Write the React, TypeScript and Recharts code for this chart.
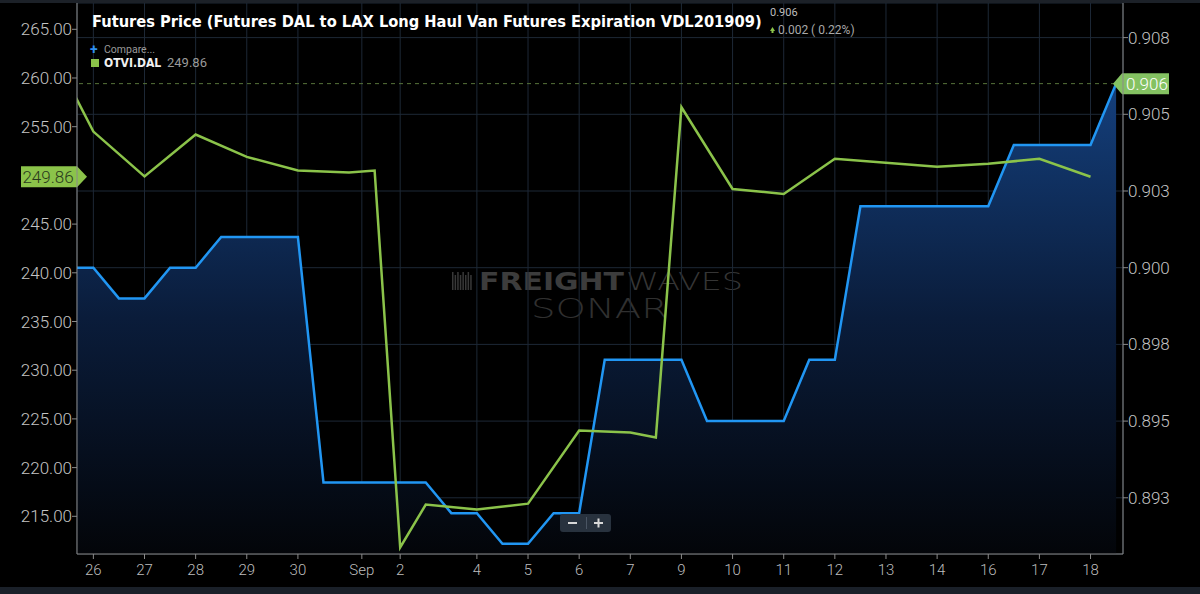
import React from 'react';
import { ComposedChart, Line, Area, XAxis, YAxis, CartesianGrid, ReferenceLine } from 'recharts';

// x position of each sample on the trading-day axis (one unit = one labelled day)
const xPositions = [
  -0.5, 0, 0.5, 1, 1.5, 2, 2.5, 3, 3.5, 4, 4.5, 5, 5.5, 6, 6.5, 7, 7.5, 8, 8.5, 9, 9.5,
  10, 10.5, 11, 11.5, 12, 12.5, 13, 13.5, 14, 14.5, 15, 15.5, 16, 16.5, 17, 17.5, 18, 18.5, 19, 19.5, 20,
];

// Futures DAL to LAX Long Haul Van, expiration VDL201909 (right axis)
const futuresPrice = [
  0.9, 0.9, 0.899, 0.899, 0.9, 0.9, 0.901, 0.901, 0.901, 0.901, 0.893, 0.893, 0.893, 0.893, 0.893,
  0.892, 0.892, 0.891, 0.891, 0.892, 0.892, 0.897, 0.897, 0.897, 0.897, 0.895, 0.895, 0.895, 0.895,
  0.897, 0.897, 0.902, 0.902, 0.902, 0.902, 0.902, 0.902, 0.904, 0.904, 0.904, 0.904, 0.906,
];

// OTVI.DAL (left axis)
const otviDal: (number | null)[] = [
  259.6, 254.5, null, 249.9, null, 254.2, null, 251.9, null, 250.5, null, 250.3, 250.5, 211.8, 216.2,
  null, 215.7, null, 216.3, null, 223.8, null, 223.6, 223.1, 257.0, null, 248.6, null, 248.1, null,
  251.7, null, null, null, 250.9, null, 251.2, null, 251.7, null, 249.86, null,
];

const xTickValues = [0, 1, 2, 3, 4, 5.25, 6, 7.5, 8.5, 9.5, 10.5, 11.5, 12.5, 13.5, 14.5, 15.5, 16.5, 17.5, 18.5, 19.5];
const xTickLabels = ['26', '27', '28', '29', '30', 'Sep', '2', '4', '5', '6', '7', '9', '10', '11', '12', '13', '14', '16', '17', '18'];

// 250.00 is hidden behind the last-value badge in the reference
const leftTicks = [215, 220, 225, 230, 235, 240, 245, 255, 260, 265];
const rightTicks = [0.8925, 0.895, 0.8975, 0.9, 0.9025, 0.905, 0.9075];
const rightTickLabels = ['0.893', '0.895', '0.898', '0.900', '0.903', '0.905', '0.908'];

const TITLE = 'Futures Price (Futures DAL to LAX Long Haul Van Futures Expiration VDL201909)';
const TITLE_FONT = '"Liberation Sans Narrow", "DejaVu Sans Condensed", "Liberation Sans", sans-serif';

const chartData = xPositions.map((x, i) => ({ x, fut: futuresPrice[i], otvi: otviDal[i] }));

const lastFut = futuresPrice[futuresPrice.length - 1];
const lastOtvi = [...otviDal].reverse().find((v) => v !== null) as number;

const GREEN = '#8bc34a';
const BLUE = '#2196f3';
const tickFont = { fontFamily: 'Roboto, "Noto Sans", sans-serif', fontWeight: 300 };

function fitFontSize(text: string, family: string, target: number, base: number) {
  try {
    const ctx = document.createElement('canvas').getContext('2d');
    if (!ctx) return base;
    ctx.font = `700 ${base}px ${family}`;
    const w = ctx.measureText(text).width;
    if (!w) return base;
    return Math.max(14, Math.min(20, (base * target) / w));
  } catch (e) {
    return base;
  }
}

const LeftBadge = (props: any) => {
  const vb = props.viewBox || {};
  const x = vb.x;
  const y = vb.y;
  const h = 21;
  return (
    <g>
      <polygon
        points={`${x - 56},${y - h / 2} ${x},${y - h / 2} ${x + 10},${y} ${x},${y + h / 2} ${x - 56},${y + h / 2}`}
        fill={GREEN}
      />
      <text x={x - 29} y={y} dy="0.36em" textAnchor="middle" fontSize={17} fill="#2a3a1c" style={tickFont}>
        {lastOtvi.toFixed(2)}
      </text>
    </g>
  );
};

const RightBadge = (props: any) => {
  const vb = props.viewBox || {};
  const x = vb.x + vb.width;
  const y = vb.y;
  const h = 21;
  return (
    <g>
      <polygon
        points={`${x - 10},${y} ${x - 1},${y - h / 2} ${x + 46},${y - h / 2} ${x + 46},${y + h / 2} ${x - 1},${y + h / 2}`}
        fill="#84c262"
      />
      <text x={x + 24} y={y} dy="0.36em" textAnchor="middle" fontSize={17} fill="#ffffff" style={tickFont}>
        {lastFut.toFixed(3)}
      </text>
    </g>
  );
};

export default function App() {
  const titleSize = React.useMemo(() => fitFontSize(TITLE, TITLE_FONT, 670, 18), []);
  return (
    <div style={{ position: 'absolute', left: 0, top: 0, width: 1200, height: 594, background: '#000', overflow: 'hidden' }}>
      {/* watermark behind the chart */}
      <svg width={1200} height={594} style={{ position: 'absolute', left: 0, top: 0 }}>
        <g fill="#383838">
          {[0, 1, 2, 3, 4, 5, 6, 7].map((i) => (
            <rect key={i} x={452 + i * 2.6} y={272 + (i % 2) * 3} width={1.5} height={18 - (i % 2) * 3} />
          ))}
        </g>
        <text x={479} y={290} fontSize={25} fontWeight={900} fill="#3c3c3c" textLength={145} lengthAdjust="spacingAndGlyphs"
          fontFamily='"DejaVu Sans", "Liberation Sans", sans-serif'>FREIGHT</text>
        <text x={626} y={290} fontSize={25} fontWeight={200} fill="#353535" textLength={117} lengthAdjust="spacingAndGlyphs"
          fontFamily='"DejaVu Sans", "Liberation Sans", sans-serif'>WAVES</text>
        <text x={531} y={318} fontSize={27} fontWeight={200} fill="#303030" textLength={137} lengthAdjust="spacingAndGlyphs"
          fontFamily='"DejaVu Sans", "Liberation Sans", sans-serif'>SONAR</text>
      </svg>

      <div style={{ position: 'absolute', left: 0, top: 0 }}>
        <ComposedChart width={1200} height={594} data={chartData} margin={{ top: 3, right: 0, bottom: 0, left: 0 }}>
          <defs>
            <linearGradient id="blueFill" x1="0" y1="0" x2="0" y2="1">
              <stop offset="0" stopColor="#143f7c" />
              <stop offset="0.5" stopColor="#0a1c3a" />
              <stop offset="1" stopColor="#030509" />
            </linearGradient>
          </defs>
          <CartesianGrid yAxisId="right" stroke="#1d2836" strokeWidth={1} />
          <XAxis
            dataKey="x"
            type="number"
            domain={[-0.32, 20.135]}
            allowDataOverflow
            ticks={xTickValues}
            tickFormatter={(v: number) => xTickLabels[xTickValues.indexOf(v)] ?? ''}
            interval={0}
            height={40}
            stroke="#8a8a8a"
            tickSize={5}
            tickMargin={5}
            tick={{ fill: '#bdbdbd', fontSize: 15, ...tickFont }}
          />
          <YAxis
            yAxisId="left"
            orientation="left"
            domain={[211.13, 267.7]}
            allowDataOverflow
            ticks={leftTicks}
            interval={0}
            tickFormatter={(v: number) => v.toFixed(2)}
            width={77}
            stroke="#8a8a8a"
            tickSize={5}
            tickMargin={0}
            tick={{ fill: '#c4c4c4', fontSize: 17, ...tickFont }}
          />
          <YAxis
            yAxisId="right"
            orientation="right"
            domain={[0.890668, 0.908628]}
            allowDataOverflow
            ticks={rightTicks}
            interval={0}
            tickFormatter={(v: number) => rightTickLabels[rightTicks.indexOf(v)] ?? ''}
            width={77}
            stroke="#8a8a8a"
            tickSize={5}
            tickMargin={0}
            tick={{ fill: '#c4c4c4', fontSize: 17, ...tickFont }}
          />
          <Area
            yAxisId="right"
            type="linear"
            dataKey="fut"
            stroke={BLUE}
            strokeWidth={2.5}
            fill="url(#blueFill)"
            fillOpacity={1}
            dot={false}
            activeDot={false}
            isAnimationActive={false}
          />
          <Line
            yAxisId="left"
            type="linear"
            dataKey="otvi"
            stroke={GREEN}
            strokeWidth={2.5}
            connectNulls
            dot={false}
            activeDot={false}
            isAnimationActive={false}
          />
          <ReferenceLine yAxisId="right" y={lastFut} stroke="#56733a" strokeDasharray="4 4" strokeWidth={1} label={RightBadge} />
          <ReferenceLine yAxisId="left" y={lastOtvi} stroke="none" label={LeftBadge} />
        </ComposedChart>
      </div>

      {/* titles, legend and controls on top */}
      <svg width={1200} height={594} style={{ position: 'absolute', left: 0, top: 0, pointerEvents: 'none' }}>
        <rect x={0} y={0} width={1200} height={3} fill="#1c2128" />
        <rect x={0} y={587} width={1200} height={7} fill="#1a2029" />
        <text x={92} y={27} fontSize={titleSize} fontWeight={700} fill="#ffffff" fontFamily={TITLE_FONT}>
          {TITLE}
        </text>
        <text x={770} y={16} fontSize={11} fill="#bdbdbd" fontFamily="Roboto, sans-serif">{lastFut.toFixed(3)}</text>
        <polygon points="770,31 772.5,27 775,31" fill={GREEN} />
        <rect x={771.5} y={30} width={2} height={3} fill={GREEN} />
        <text x={778} y={34} fontSize={12} fill="#a8a8a8" fontFamily="Roboto, sans-serif">0.002 ( 0.22%)</text>
        <text x={90} y={54} fontSize={14} fontWeight={700} fill="#2f8ff0" fontFamily="Roboto, sans-serif">+</text>
        <text x={104} y={53} fontSize={10.5} fill="#9a9a9a" fontFamily="Roboto, sans-serif">Compare...</text>
        <rect x={91} y={59} width={8} height={8} fill={GREEN} />
        <text x={104} y={67} fontSize={12} fontWeight={700} fill="#f0f0f0" fontFamily='"Liberation Sans Narrow", "DejaVu Sans Condensed", sans-serif'>OTVI.DAL</text>
        <text x={167} y={67} fontSize={13} fill="#9a9a9a" fontFamily="Roboto, sans-serif">{lastOtvi.toFixed(2)}</text>
        <rect x={560} y={514} width={51} height={18} rx={3} fill="#28323e" />
        <line x1={586.5} y1={517} x2={586.5} y2={529} stroke="#4a5563" />
        <rect x={568} y={522} width={9} height={2} fill="#d8d8d8" />
        <rect x={594} y={522} width={9} height={2} fill="#d8d8d8" />
        <rect x={597.5} y={518.5} width={2} height={9} fill="#d8d8d8" />
      </svg>
    </div>
  );
}
